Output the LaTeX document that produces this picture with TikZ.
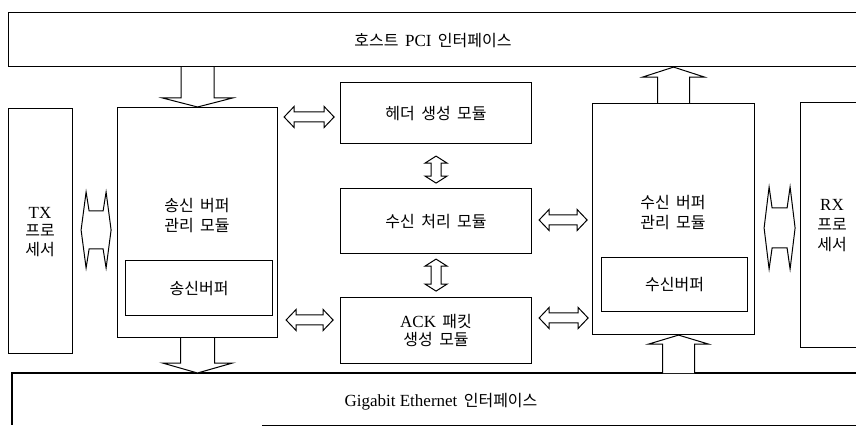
\documentclass[tikz,border=0pt]{standalone}
\usepackage{fontspec}
\setmainfont{Liberation Serif}
\newfontfamily\kr{Noto Sans CJK KR}
\usetikzlibrary{calc}
\newcommand{\ks}{\hspace{0.4em}}
\newcommand{\lat}[1]{{\rmfamily\fontsize{17}{20}\selectfont #1}}
\tikzset{
  box/.style={draw, line width=1.1pt, inner sep=0pt},
  lbl/.style={font=\fontsize{16}{20}\selectfont\kr, align=center, inner sep=0pt},
  arr/.style={draw, line width=1pt, fill=white, line join=miter},
}
% vertical fat single arrow from tail #1 to tip #2; #3 shaft half, #4 head half, #5 head length
\newcommand{\fatarrow}[5]{%
  \draw[arr] let \p1=(#1), \p2=(#2), \n1={ifthenelse(\y2>\y1,1,-1)} in
   ({\x2-#3pt},\y1) -- ({\x2-#3pt},{\y2-\n1*#5pt}) -- ({\x2-#4pt},{\y2-\n1*#5pt}) -- (\x2,\y2)
   -- ({\x2+#4pt},{\y2-\n1*#5pt}) -- ({\x2+#3pt},{\y2-\n1*#5pt}) -- ({\x2+#3pt},\y1);}
% horizontal double arrow: #1 left tip, #2 length, #3 head half, #4 shaft half, #5 barb offset, #6 shaft offset
\newcommand{\hdbl}[6]{%
  \draw[arr] (#1) -- +(#5,-#3) -- +(#6,-#4) -- +({#2-#6},-#4) -- +({#2-#5},-#3) -- +(#2,0)
   -- +({#2-#5},#3) -- +({#2-#6},#4) -- +(#6,#4) -- +(#5,#3) -- cycle;}
% vertical double arrow: #1 top tip, #2 length, #3 head half, #4 shaft half, #5 barb offset, #6 shaft offset
\newcommand{\vdbl}[6]{%
  \draw[arr] (#1) -- +(-#3,#5) -- +(-#4,#6) -- +(-#4,{#2-#6}) -- +(-#3,{#2-#5}) -- +(0,#2)
   -- +(#3,{#2-#5}) -- +(#4,{#2-#6}) -- +(#4,#6) -- +(#3,#5) -- cycle;}
\begin{document}
\begin{tikzpicture}[x=1pt, y=-1pt]
\useasboundingbox (0,0) rectangle (856,427);
\clip (0,0) rectangle (856,427);
\fill[white] (0,0) rectangle (856,427);

% host PCI interface
\node[box, anchor=north west, minimum width=870pt, minimum height=54pt] (host) at (8,12) {};
\node[lbl] (hostlbl) at (433,41) {호스트\ks\lat{PCI}\ks 인터페이스};

% Gigabit Ethernet interface
\node[inner sep=0pt, anchor=north west, minimum width=870pt, minimum height=52pt] (gig) at (12,373) {};
\draw[line width=1.1pt] (gig.north east) -- (gig.north west) -- (gig.south west);
\draw[line width=1.1pt] ($(gig.south west)+(250,0)$) -- (gig.south east);
\node[lbl] (giglbl) at (441,402) {\lat{Gigabit Ethernet}\ks 인터페이스};

% TX / RX processors
\node[box, anchor=north west, minimum width=64pt, minimum height=245pt] (tx) at (8,108) {};
\node[lbl, font=\fontsize{16}{18.5}\selectfont\kr] (txlbl) at (40,232) {\lat{TX}\\프로\\세서};
\node[box, anchor=north west, minimum width=80pt, minimum height=245pt] (rx) at (800,102) {};
\node[lbl, font=\fontsize{16}{20}\selectfont\kr] (rxlbl) at (832,226) {\lat{RX}\\프로\\세서};

% buffer management modules
\node[box, anchor=north west, minimum width=160pt, minimum height=230pt] (lmod) at (117,107) {};
\node[lbl] (lmodlbl) at (197,216) {송신\ks 버퍼\\관리\ks 모듈};
\node[box, anchor=north west, minimum width=147pt, minimum height=55pt, lbl] (tbuf) at (125,260) {송신버퍼};

\node[box, anchor=north west, minimum width=162pt, minimum height=231pt] (rmod) at (592,103) {};
\node[lbl] (rmodlbl) at (673,213) {수신\ks 버퍼\\관리\ks 모듈};
\node[box, anchor=north west, minimum width=146pt, minimum height=54pt, lbl] (rbuf) at (601,257) {수신버퍼};

% middle modules
\node[box, lbl, anchor=north west, minimum width=191pt, minimum height=61pt] (hdr) at (340,82) {헤더\ks 생성\ks 모듈};
\node[box, lbl, anchor=north west, minimum width=191pt, minimum height=65pt] (rxp) at (340,188) {수신\ks 처리\ks 모듈};
\node[box, lbl, anchor=north west, minimum width=191pt, minimum height=66pt, font=\fontsize{16}{18}\selectfont\kr] (ack) at (340,297) {\lat{ACK}\ks 패킷\\생성\ks 모듈};

% vertical fat arrows
\fatarrow{lmod.north |- host.south}{lmod.north}{16.5}{35}{9}
\fatarrow{lmod.south}{lmod.south |- gig.north}{17}{35}{10}
\fatarrow{rmod.north}{rmod.north |- host.south}{16}{31}{10}
\coordinate (rbot) at ([xshift=5pt]rmod.south);
\fatarrow{rbot |- gig.north}{rbot}{16}{30}{9}

% TX <-> send module, receive module <-> RX
\coordinate (txa) at ([xshift=8pt]tx.east |- 0,230);
\hdbl{txa}{30}{38}{19}{5}{8}
\coordinate (rxa) at ([xshift=9pt]rmod.east |- 0,228);
\hdbl{rxa}{31}{41}{20}{5}{8}

% small horizontal double arrows
\coordinate (a1) at ([xshift=6pt]lmod.east |- 0,117);
\hdbl{a1}{50}{10.5}{5}{10}{10}
\coordinate (a2) at ([xshift=8pt]lmod.east |- 0,320);
\hdbl{a2}{47}{10.5}{5}{10}{10}
\coordinate (a3) at ([xshift=7pt]rxp.east |- 0,220);
\hdbl{a3}{48}{10.5}{5}{10}{10}
\coordinate (a4) at ([xshift=7pt]ack.east |- 0,318);
\hdbl{a4}{49}{10.5}{5}{10}{10}

% vertical double arrows
\coordinate (v1) at ([yshift=-12pt]hdr.south);
\vdbl{v1}{27}{11}{5}{7}{7}
\coordinate (v2) at ([yshift=-5pt]rxp.south);
\vdbl{v2}{32}{11}{5}{7}{7}
\end{tikzpicture}
\end{document}
